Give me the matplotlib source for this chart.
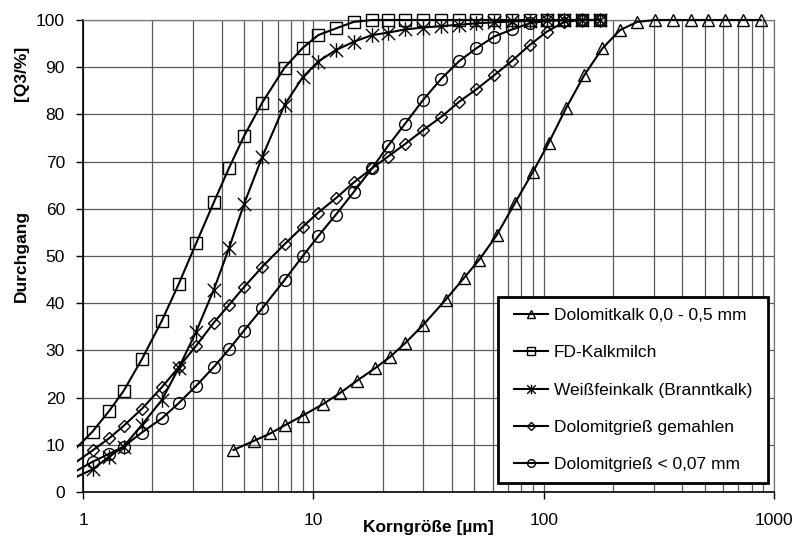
import numpy as np
import matplotlib
matplotlib.use("Agg")
import matplotlib.pyplot as plt
from matplotlib.path import Path
from matplotlib.patches import Rectangle
from matplotlib.transforms import Bbox, TransformedBbox

plt.rcParams['font.family'] = ['Liberation Sans', 'DejaVu Sans']

# particle size classes (µm)
x_fine = [0.9, 1.1, 1.3, 1.5, 1.8, 2.2, 2.6, 3.1, 3.7, 4.3, 5.0, 6.0, 7.5, 9.0, 10.5,
          12.5, 15, 18, 21, 25, 30, 36, 43, 51, 61, 73, 87, 103, 123, 147, 175]
x_coarse = [4.5, 5.5, 6.5, 7.5, 9.0, 11, 13, 15.5, 18.5, 21.5, 25, 30, 37.5, 45, 52.5,
            62.5, 75, 90, 105, 125, 150, 180, 215, 255, 305, 365, 435, 515, 615, 735, 875]

# cumulative passing Q3 (%)
dolomitkalk = [8.9, 10.8, 12.4, 14.1, 16.2, 18.6, 20.9, 23.6, 26.2, 28.6, 31.5, 35.4, 40.7,
               45.3, 49.2, 54.4, 61.2, 67.9, 73.9, 81.3, 88.3, 94.0, 97.9, 99.6, 100, 100,
               100, 100, 100, 100, 100]
kalkmilch = [8.5, 12.8, 17.2, 21.4, 28.1, 36.3, 44.0, 52.7, 61.4, 68.6, 75.4, 82.5, 89.9,
             94.1, 96.8, 98.2, 99.6, 100, 100, 100, 100, 100, 100, 100, 100, 100, 100,
             100, 100, 100, 100]
weissfeinkalk = [2.8, 4.8, 7.5, 9.6, 14.2, 19.5, 26.2, 34.0, 42.9, 51.6, 61.0, 71.0, 82.0,
                 87.9, 91.2, 93.6, 95.4, 96.8, 97.3, 98.0, 98.4, 98.7, 99.0, 99.3, 99.5,
                 99.7, 99.8, 99.9, 100, 100, 100]
gries_gemahlen = [5.8, 8.8, 11.4, 14.0, 17.6, 22.2, 26.4, 31.0, 35.9, 39.6, 43.4, 47.7, 52.5,
                  56.2, 59.2, 62.2, 65.6, 68.6, 71.0, 73.7, 76.7, 79.5, 82.7, 85.3, 88.3,
                  91.4, 94.7, 97.5, 99.6, 100, 100]
gries_007 = [4.0, 6.4, 8.1, 9.6, 12.6, 15.6, 18.8, 22.5, 26.5, 30.2, 34.2, 38.9, 44.9, 50.0,
             54.2, 58.7, 63.6, 68.6, 73.2, 78.0, 83.1, 87.6, 91.3, 94.0, 96.5, 98.0, 99.3,
             99.8, 100, 100, 100]

labels = ["Dolomitkalk 0,0 - 0,5 mm", "FD-Kalkmilch", "Weißfeinkalk (Branntkalk)",
          "Dolomitgrieß gemahlen", "Dolomitgrieß < 0,07 mm"]

# asterisk marker (x plus vertical bar)
star = Path([(-1, -1), (1, 1), (-1, 1), (1, -1), (0, -1.1), (0, 1.1)],
            [Path.MOVETO, Path.LINETO, Path.MOVETO, Path.LINETO, Path.MOVETO, Path.LINETO])

fig = plt.figure(figsize=(7.95, 5.38), dpi=100)
ax = fig.add_axes([83 / 795, 46 / 538, 691 / 795, 472 / 538])
ax.set_xscale('log')
ax.set_xlim(1, 1000)
ax.set_ylim(0, 100)

clip = TransformedBbox(Bbox([[-0.009, -0.03], [1.0, 1.04]]), ax.transAxes)

series = [
    (x_coarse, dolomitkalk, '^', 9, None),
    (x_fine, kalkmilch, 's', 8, slice(1, None)),
    (x_fine, weissfeinkalk, star, 10.5, slice(1, None)),
    (x_fine, gries_gemahlen, 'D', 6.5, slice(1, None)),
    (x_fine, gries_007, 'o', 8.5, slice(1, None)),
]
handles = []
for (xs, ys, mk, ms, every), lab in zip(series, labels):
    ln, = ax.plot(xs, ys, color='black', lw=1.5, marker=mk, ms=ms, mfc='none',
                  mec='black', mew=1.0, markevery=every, label=lab, zorder=3)
    ln.set_clip_box(clip)
    handles.append(ln)

ax.set_yticks(np.arange(0, 101, 10))
ax.set_xticks([1, 10, 100, 1000])
ax.set_xticklabels(['1', '10', '100', '1000'])
ax.grid(True, which='both', color='0.35', lw=0.9, zorder=1)
ax.tick_params(which='major', direction='out', length=5, width=1, labelsize=12.5, color='black')
ax.tick_params(axis='x', which='major', pad=10)
ax.tick_params(axis='y', which='major', pad=8)
ax.tick_params(which='minor', length=0)
for s in ['left', 'bottom']:
    ax.spines[s].set_color('black')
    ax.spines[s].set_linewidth(1.2)
for s in ['top', 'right']:
    ax.spines[s].set_color('0.45')
    ax.spines[s].set_linewidth(0.9)

ax.set_xlabel('Korngröße [µm]', fontsize=12.5, fontweight='bold', va='center')
ax.xaxis.set_label_coords(0.5, -0.076)
fig.text(21 / 795, 1 - 256 / 538, 'Durchgang', rotation=90, ha='center', va='center',
         fontsize=12.5, fontweight='bold')
fig.text(21 / 795, 1 - 73 / 538, '[Q3/%]', rotation=90, ha='center', va='center',
         fontsize=12.5, fontweight='bold')

# legend box drawn separately to get Excel-like padding
box = Rectangle((0.6006, 0.019), 0.3904, 0.394, transform=ax.transAxes, facecolor='white',
                edgecolor='black', lw=2, zorder=4, clip_on=False)
ax.add_patch(box)
leg = ax.legend(handles=handles, loc='center', bbox_to_anchor=(0.7958, 0.216),
                fontsize=12.5, markerscale=0.65, numpoints=1, frameon=False,
                handlelength=2.0, handletextpad=0.3, labelspacing=1.27, borderpad=0)
leg.set_zorder(5)

fig.savefig('out.png', dpi=100)
